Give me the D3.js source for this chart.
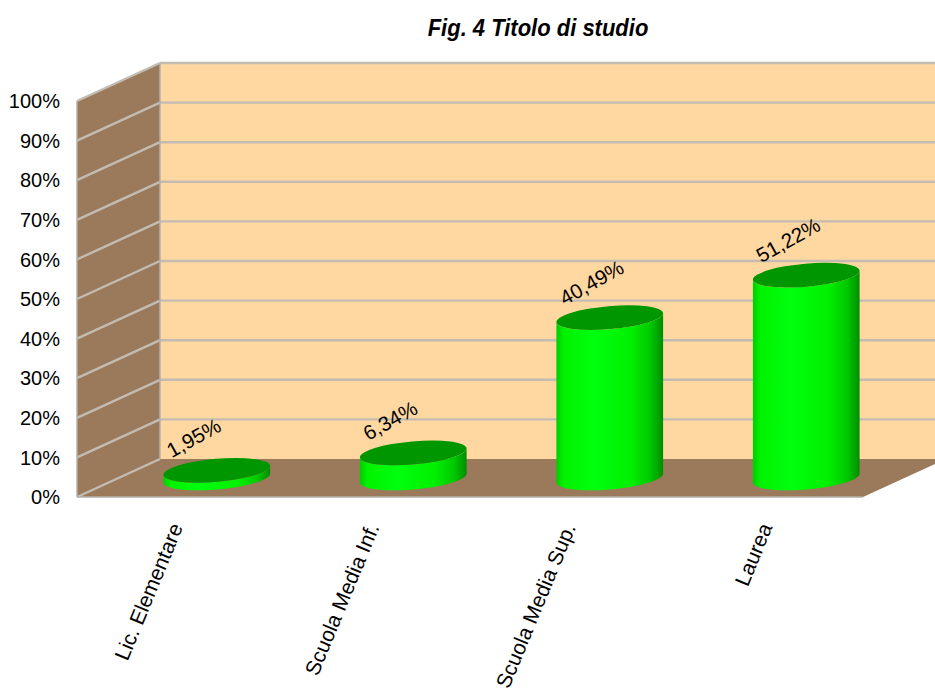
<!DOCTYPE html>
<html>
<head>
<meta charset="utf-8">
<script src="https://cdn.jsdelivr.net/npm/d3@7"></script>
<style>
  html, body { margin: 0; padding: 0; background: #ffffff; }
  svg { display: block; font-family: "Liberation Sans", Arial, sans-serif; }
</style>
</head>
<body>
<svg id="chart" width="935" height="691"></svg>
<script>
// Education level distribution
const categories = ["Lic. Elementare", "Scuola Media Inf.", "Scuola Media Sup.", "Laurea"];
const values = [0.0195, 0.0634, 0.4049, 0.5122];
const valueLabels = ["1,95%", "6,34%", "40,49%", "51,22%"];
const ticks = [0, 0.1, 0.2, 0.3, 0.4, 0.5, 0.6, 0.7, 0.8, 0.9, 1.0];
const tickLabels = ["0%", "10%", "20%", "30%", "40%", "50%", "60%", "70%", "80%", "90%", "100%"];
const title = "Fig. 4 Titolo di studio";

const W = 935, H = 691;
const svg = d3.select("#chart");

// 3D frame: front plane plus a depth offset towards the back
const front = { left: 77, right: 863, bottom: 497, top: 101 };
const depth = { dx: 83, dy: -38 };

const y = d3.scaleLinear().domain([0, 1]).range([front.bottom, front.top]);
const x = d3.scaleBand().domain(categories)
  .range([front.left, front.right])
  .paddingInner(0.455).paddingOuter(0.2275);

const colors = {
  wall: "#9b7a5c",
  back: "#ffd7a0",
  grid: "#c2bcb3",
  edge: "#b4b0aa",
  top: "#009600"
};

// Title
svg.append("text")
  .attr("transform", "translate(538,36) scale(1,1.12)")
  .attr("text-anchor", "middle")
  .attr("font-size", 22).attr("font-weight", "bold").attr("font-style", "italic")
  .attr("fill", "#000")
  .text(title);

// Back wall
const backLeft = front.left + depth.dx;
svg.append("rect")
  .attr("x", backLeft).attr("y", y(1) + depth.dy)
  .attr("width", W - backLeft + 20).attr("height", y(0) - y(1))
  .attr("fill", colors.back);

// Side wall
svg.append("path")
  .attr("d", `M${front.left},${y(1)} L${backLeft},${y(1) + depth.dy} L${backLeft},${y(0) + depth.dy} L${front.left},${y(0)} Z`)
  .attr("fill", colors.wall);

// Floor
svg.append("path")
  .attr("d", `M${front.left},${y(0)} L${backLeft},${y(0) + depth.dy} L${front.right + depth.dx},${y(0) + depth.dy} L${front.right},${y(0)} Z`)
  .attr("fill", colors.wall);

// Gridlines on the side wall and the back wall
const grid = svg.append("g").attr("fill", "none").attr("stroke", colors.grid).attr("stroke-width", 2.4);
ticks.forEach(t => {
  if (t > 0) {
    grid.append("line")
      .attr("x1", backLeft).attr("y1", y(t) + depth.dy)
      .attr("x2", W).attr("y2", y(t) + depth.dy);
  }
  grid.append("line")
    .attr("x1", front.left).attr("y1", y(t))
    .attr("x2", backLeft).attr("y2", y(t) + depth.dy);
});

// Frame edges
const edges = svg.append("g").attr("fill", "none").attr("stroke", colors.edge).attr("stroke-width", 1.5);
edges.append("line").attr("x1", front.left).attr("y1", y(1)).attr("x2", front.left).attr("y2", y(0));
edges.append("line").attr("x1", backLeft).attr("y1", y(1) + depth.dy).attr("x2", backLeft).attr("y2", y(0) + depth.dy);
edges.append("line").attr("x1", front.left).attr("y1", y(0)).attr("x2", front.right).attr("y2", y(0));

// Y axis labels
svg.append("g").selectAll("text").data(ticks).join("text")
  .attr("x", 60).attr("y", d => y(d)).attr("dy", "0.36em")
  .attr("text-anchor", "end").attr("font-size", 20).attr("fill", "#000")
  .text((d, i) => tickLabels[i]);

// Cylinder gradient
const defs = svg.append("defs");
const grad = defs.append("linearGradient").attr("id", "cylBody")
  .attr("x1", "0%").attr("x2", "100%").attr("y1", "0%").attr("y2", "0%");
[["0%", "#00cc00"], ["7%", "#00f200"], ["35%", "#00ff0e"], ["70%", "#00f000"], ["88%", "#00c800"], ["100%", "#008e00"]]
  .forEach(([o, c]) => grad.append("stop").attr("offset", o).attr("stop-color", c));

// Rotated ellipse helpers
const rx = x.bandwidth() / 2, ry = 11.5, phi = -5 * Math.PI / 180;
function ellPt(cx, cy, t) {
  return [cx + rx * Math.cos(t) * Math.cos(phi) - ry * Math.sin(t) * Math.sin(phi),
          cy + rx * Math.cos(t) * Math.sin(phi) + ry * Math.sin(t) * Math.cos(phi)];
}
function extremes() {
  let tMin = 0, tMax = 0, xMin = Infinity, xMax = -Infinity;
  for (let i = 0; i < 3600; i++) {
    const t = i / 3600 * 2 * Math.PI;
    const p = ellPt(0, 0, t);
    if (p[0] < xMin) { xMin = p[0]; tMin = t; }
    if (p[0] > xMax) { xMax = p[0]; tMax = t; }
  }
  return { tMin, tMax };
}
const ext = extremes();
// Points along the lower (front) half of an ellipse, from rightmost to leftmost
function frontArc(cx, cy) {
  const pts = [];
  let t0 = ext.tMax, t1 = ext.tMin;
  if (t1 < t0) t1 += 2 * Math.PI;
  const n = 60;
  for (let i = 0; i <= n; i++) pts.push(ellPt(cx, cy, t0 + (t1 - t0) * i / n));
  return pts;
}

const cyl = svg.append("g");
categories.forEach((c, i) => {
  const cx = x(c) + x.bandwidth() / 2 + depth.dx / 2;
  const yb = y(0) + depth.dy / 2;
  const yt = y(values[i]) + depth.dy / 2;
  // body: bottom front arc (right -> left), up the left side, top front arc (left -> right), down the right side
  const bottomArc = frontArc(cx, yb);
  const topArc = frontArc(cx, yt).reverse();
  const body = d3.path();
  body.moveTo(bottomArc[0][0], bottomArc[0][1]);
  bottomArc.forEach(p => body.lineTo(p[0], p[1]));
  topArc.forEach(p => body.lineTo(p[0], p[1]));
  body.closePath();
  cyl.append("path").attr("d", body.toString()).attr("fill", "url(#cylBody)");
  cyl.append("ellipse")
    .attr("cx", cx).attr("cy", yt).attr("rx", rx).attr("ry", ry)
    .attr("transform", `rotate(${phi * 180 / Math.PI},${cx},${yt})`)
    .attr("fill", colors.top);

  // value label
  svg.append("text")
    .attr("transform", `translate(${cx - 45},${yt - 12}) rotate(-29)`)
    .attr("font-size", 20.5).attr("fill", "#000")
    .text(valueLabels[i]);
});

// Category labels
svg.append("g").selectAll("text").data(categories).join("text")
  .attr("transform", d => `translate(${x(d) + x.bandwidth() / 2 + 8},${527}) rotate(-67.5)`)
  .attr("text-anchor", "end").attr("font-size", 21).attr("fill", "#000")
  .text(d => d);
</script>
</body>
</html>
